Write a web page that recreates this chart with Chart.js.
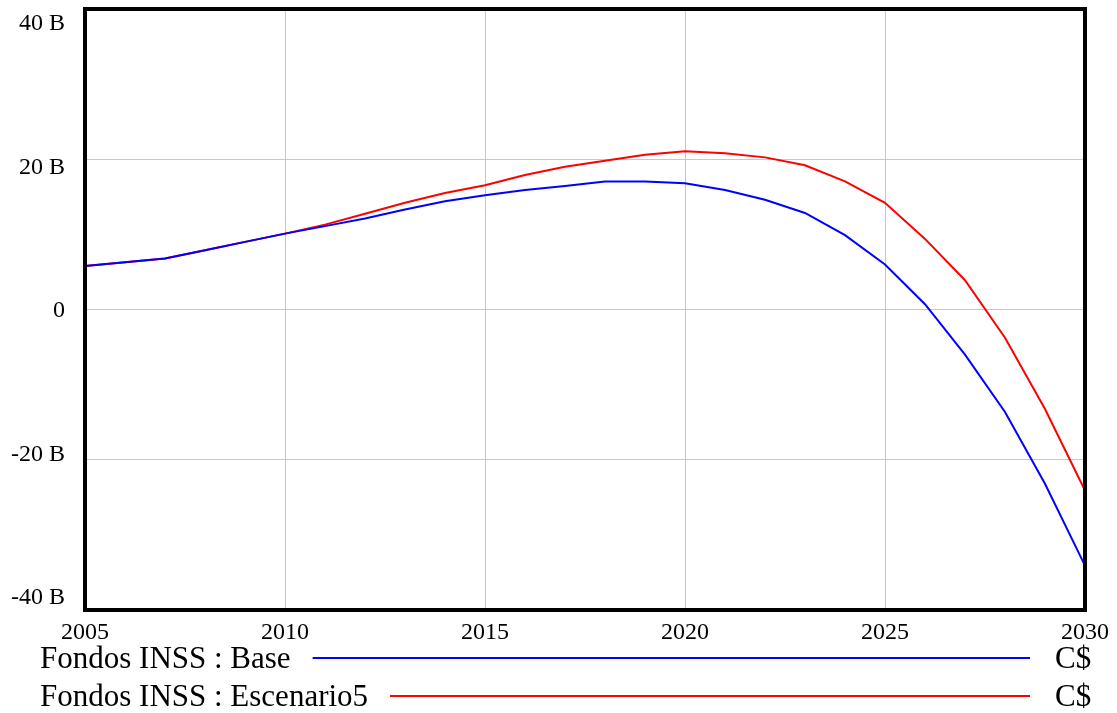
<!DOCTYPE html>
<html>
<head>
<meta charset="utf-8">
<title>Fondos INSS</title>
<script src="https://cdn.jsdelivr.net/npm/chart.js@4/dist/chart.umd.min.js"></script>
<style>
  html, body { margin: 0; padding: 0; background: #fff; }
  canvas { display: block; }
</style>
</head>
<body>
<canvas id="chart" width="1117" height="713"></canvas>
<script>
// years on the x axis
const years = [2005, 2006, 2007, 2008, 2009, 2010, 2011, 2012, 2013, 2014, 2015, 2016, 2017,
               2018, 2019, 2020, 2021, 2022, 2023, 2024, 2025, 2026, 2027, 2028, 2029, 2030];

// Fondos INSS, billions of C$
const base = [5.8, 6.3, 6.8, 7.9, 9.0, 10.1, 11.1, 12.1, 13.3, 14.4, 15.2, 15.9, 16.45,
              17.05, 17.05, 16.8, 15.9, 14.6, 12.85, 9.9, 6.0, 0.7, -6.0, -13.65, -23.2, -34.1];
const escenario5 = [5.8, 6.3, 6.8, 7.9, 9.0, 10.1, 11.3, 12.75, 14.2, 15.5, 16.55, 17.9, 19.0,
                    19.8, 20.6, 21.05, 20.8, 20.25, 19.2, 17.05, 14.2, 9.4, 3.9, -3.75, -13.25, -24.1];

const seriesNames = ['Fondos INSS : Base', 'Fondos INSS : Escenario5'];
const seriesColors = ['#0000ff', '#ff0000'];
const unitLabel = 'C$';

const xTicks = [2005, 2010, 2015, 2020, 2025, 2030];
const yTicks = [40, 20, 0, -20, -40];
const yTickLabels = ['40 B', '20 B', '0', '-20 B', '-40 B'];

const FONT = '"Liberation Serif", "Times New Roman", serif';

// axis labels, frame and legend drawn on top of the chart area
const vensimDecor = {
  id: 'vensimDecor',
  afterDraw(chart) {
    const ctx = chart.ctx;
    const area = chart.chartArea;
    const xs = chart.scales.x;
    const ys = chart.scales.y;
    ctx.save();

    // frame
    ctx.strokeStyle = '#000';
    ctx.lineWidth = 4;
    ctx.strokeRect(area.left, area.top, area.right - area.left, area.bottom - area.top);

    ctx.fillStyle = '#000';
    ctx.font = '24px ' + FONT;

    // y labels, nudged inward toward the middle
    ctx.textAlign = 'right';
    ctx.textBaseline = 'middle';
    yTicks.forEach((v, i) => {
      const y = ys.getPixelForValue(v) + 1.5 + v * 0.34;
      ctx.fillText(yTickLabels[i], area.left - 20, y);
    });

    // x labels
    ctx.textAlign = 'center';
    xTicks.forEach(v => {
      ctx.fillText(String(v), xs.getPixelForValue(v), area.bottom + 23);
    });

    // legend rows
    ctx.font = '31px ' + FONT;
    const lineEnd = 1030;
    chart.data.datasets.forEach((ds, i) => {
      const y = 660 + i * 38;
      ctx.textAlign = 'left';
      ctx.fillStyle = '#000';
      ctx.fillText(ds.label, 40, y);
      const w = ctx.measureText(ds.label).width;
      ctx.strokeStyle = ds.borderColor;
      ctx.lineWidth = 2;
      ctx.beginPath();
      ctx.moveTo(40 + w + 22, y - 2);
      ctx.lineTo(lineEnd, y - 2);
      ctx.stroke();
      ctx.fillText(unitLabel, 1055, y);
    });

    ctx.restore();
  }
};

new Chart(document.getElementById('chart'), {
  type: 'line',
  data: {
    datasets: [
      {
        label: seriesNames[0],
        data: years.map((yr, i) => ({ x: yr, y: base[i] })),
        borderColor: seriesColors[0],
        borderWidth: 2,
        pointRadius: 0,
        tension: 0
      },
      {
        label: seriesNames[1],
        data: years.map((yr, i) => ({ x: yr, y: escenario5[i] })),
        borderColor: seriesColors[1],
        borderWidth: 2,
        pointRadius: 0,
        tension: 0
      }
    ]
  },
  options: {
    responsive: false,
    animation: false,
    layout: { padding: { left: 85, top: 9, right: 32, bottom: 103 } },
    plugins: {
      legend: { display: false },
      tooltip: { enabled: false }
    },
    scales: {
      x: {
        type: 'linear',
        min: 2005,
        max: 2030,
        ticks: { display: false, stepSize: 5 },
        grid: { color: '#c8c8c8', lineWidth: 1, drawTicks: false },
        border: { display: false }
      },
      y: {
        min: -40,
        max: 40,
        ticks: { display: false, stepSize: 20 },
        grid: { color: '#c8c8c8', lineWidth: 1, drawTicks: false },
        border: { display: false }
      }
    }
  },
  plugins: [vensimDecor]
});
</script>
</body>
</html>
